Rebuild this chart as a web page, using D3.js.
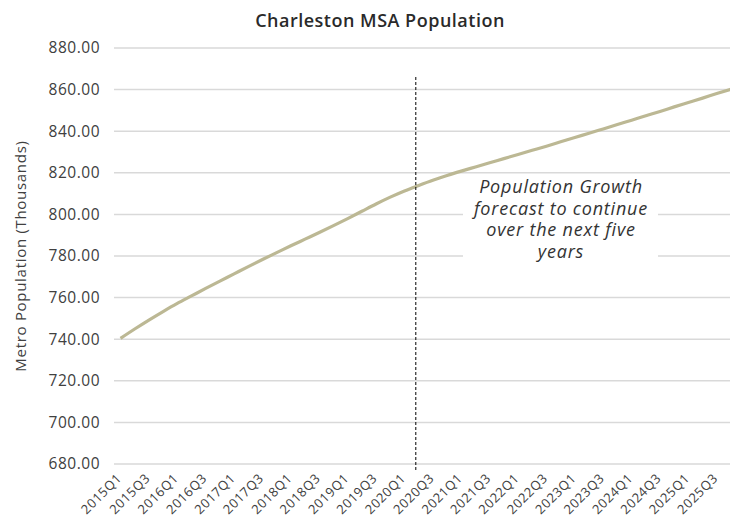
<!DOCTYPE html>
<html>
<head>
<meta charset="utf-8">
<script src="https://cdn.jsdelivr.net/npm/d3@7"></script>
<style>
  body { margin: 0; background: #fff; }
  svg { display: block; font-family: "Open Sans", sans-serif; }
</style>
</head>
<body>
<div id="chart"></div>
<script>
// Quarters 2015Q1 .. 2025Q4
const years = d3.range(2015, 2026);
const quarters = years.flatMap(y => [1, 2, 3, 4].map(q => `${y}Q${q}`));

// Metro population (thousands)
const population = [
  740.4, 744.9, 749.2, 753.3, 757.2, 760.8, 764.4, 767.9, 771.4, 774.9,
  778.3, 781.6, 784.9, 788.1, 791.3, 794.6, 798.0, 801.5, 805.0, 808.3,
  811.3, 813.9, 816.4, 818.7, 820.8, 822.8, 824.8, 826.8, 828.8, 830.8,
  832.8, 834.9, 837.0, 839.0, 841.1, 843.2, 845.3, 847.4, 849.5, 851.7,
  853.8, 855.9, 858.1, 860.2
];

const yTicks = [680, 700, 720, 740, 760, 780, 800, 820, 840, 860, 880];
const forecastAt = 20.8; // quarter index where the forecast divider sits
const noteLines = ["Population Growth", "forecast to continue", "over the next five", "years"];

const data = quarters.map((q, i) => ({ q, i, v: population[i] }));

const W = 730, H = 522;
const plot = { left: 114, right: 730, top: 48, bottom: 464 };

const svg = d3.select("#chart").append("svg")
    .attr("width", W)
    .attr("height", H);

const x = d3.scaleLinear()
    .domain([0, quarters.length - 1])
    .range([120.5, 731]);

const y = d3.scaleLinear()
    .domain([680, 880])
    .range([plot.bottom, plot.top]);

// Title
svg.append("text")
    .attr("x", 380)
    .attr("y", 27)
    .attr("text-anchor", "middle")
    .style("font-size", "18px")
    .style("font-weight", "600")
    .style("letter-spacing", "0.5px")
    .style("fill", "#2a2a2a")
    .text("Charleston MSA Population");

// Grid
svg.append("g")
    .selectAll("line")
    .data(yTicks)
    .enter()
    .append("line")
    .attr("x1", plot.left)
    .attr("x2", plot.right)
    .attr("y1", d => y(d))
    .attr("y2", d => y(d))
    .attr("stroke", "#d9d9d9")
    .attr("stroke-width", 1.5);

// Y axis labels
const yAxis = svg.append("g")
    .attr("transform", `translate(${plot.left - 8},0)`)
    .call(d3.axisLeft(y).tickValues(yTicks).tickFormat(d3.format(".2f")).tickSize(0).tickPadding(6));
yAxis.select(".domain").remove();
yAxis.selectAll("text")
    .style("font-family", "'Open Sans', sans-serif")
    .style("font-size", "15.5px")
    .style("letter-spacing", "0.5px")
    .style("fill", "#404040");

svg.append("text")
    .attr("transform", "rotate(-90)")
    .attr("x", -(plot.top + plot.bottom) / 2)
    .attr("y", 26)
    .attr("text-anchor", "middle")
    .style("font-size", "15px")
    .style("letter-spacing", "0.7px")
    .style("fill", "#404040")
    .text("Metro Population (Thousands)");

// X axis labels, every other quarter
const xLabels = data.filter(d => d.i % 2 === 0);
svg.append("g")
    .selectAll("text")
    .data(xLabels)
    .enter()
    .append("text")
    .attr("transform", d => `translate(${x(d.i) + 2},479) rotate(-45)`)
    .attr("text-anchor", "end")
    .style("font-size", "13px")
    .style("letter-spacing", "0.6px")
    .style("fill", "#404040")
    .text(d => d.q);

// Annotation backdrop (hides gridlines behind the note)
svg.append("rect")
    .attr("x", 463)
    .attr("y", 176)
    .attr("width", 195)
    .attr("height", 88)
    .attr("fill", "#fff");

// Line
const line = d3.line()
    .x(d => x(d.i))
    .y(d => y(d.v))
    .curve(d3.curveMonotoneX);

svg.append("path")
    .datum(data)
    .attr("fill", "none")
    .attr("stroke", "#bcb894")
    .attr("stroke-width", 3.2)
    .attr("d", line);

// Forecast divider
svg.append("line")
    .attr("x1", x(forecastAt))
    .attr("x2", x(forecastAt))
    .attr("y1", 77)
    .attr("y2", 472)
    .attr("stroke", "#000")
    .attr("stroke-width", 1)
    .attr("stroke-dasharray", "3,2");

// Note
const note = svg.append("text")
    .attr("text-anchor", "middle")
    .style("font-size", "18px")
    .style("font-style", "italic")
    .style("letter-spacing", "0.8px")
    .style("fill", "#333");
noteLines.forEach((t, k) => {
    note.append("tspan")
        .attr("x", 561)
        .attr("y", 193 + k * 21.7)
        .text(t);
});
</script>
</body>
</html>
